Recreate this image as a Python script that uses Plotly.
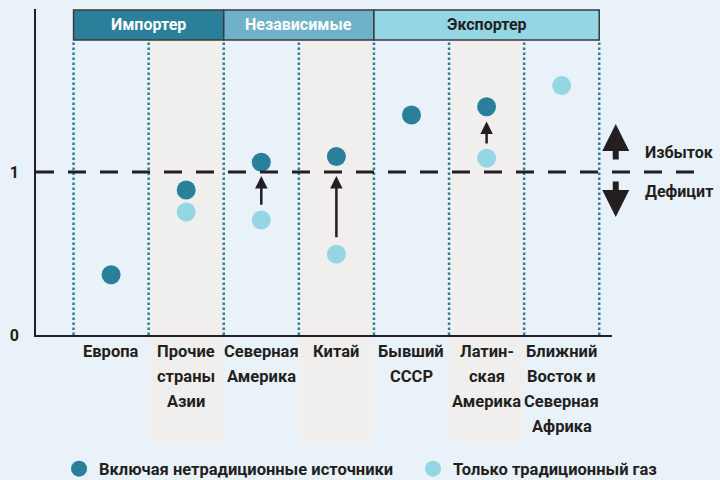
import plotly.graph_objects as go

# ---- data ----
cat_lines = [["Европа"], ["Прочие", "страны", "Азии"], ["Северная", "Америка"], ["Китай"],
             ["Бывший", "СССР"], ["Латин-", "ская", "Америка"], ["Ближний", "Восток и", "Северная", "Африка"]]
incl_values = [0.37, 0.89, 1.06, 1.095, 1.35, 1.40, None]
trad_values = [None, 0.755, 0.705, 0.495, None, 1.085, 1.53]
arrow_from = [None, None, 0.79, 0.59, None, 1.165, None]
arrow_to = [None, None, 0.975, 0.975, None, 1.31, None]
groups = [("Импортер", -0.5, 1.5), ("Независимые", 1.5, 3.5), ("Экспортер", 3.5, 6.5)]
y_ticks = [0, 1]
y_ticktext = ["0", "1"]
series_names = ["Включая нетрадиционные источники", "Только традиционный газ"]

DARK = "#2a7f9b"
LIGHT = "#94d6e4"
MID = "#6fb1c8"
BG = "#e9f1f9"
SHADE = "#f0efed"
INK = "#231f20"
FONT = "Roboto, sans-serif"
FS = 16.5

idx = list(range(len(cat_lines)))
fig = go.Figure()
fig.add_trace(go.Scatter(x=idx, y=incl_values, mode="markers", name=series_names[0],
                         marker=dict(size=19, color=DARK), legend="legend"))
fig.add_trace(go.Scatter(x=idx, y=trad_values, mode="markers", name=series_names[1],
                         marker=dict(size=19, color=LIGHT), legend="legend2"))

shapes = []
annotations = []
HDR_BOT, HDR_TOP = 0.905, 0.997
# shaded columns
for i in idx:
    if i % 2 == 1:
        shapes.append(dict(type="rect", xref="x", yref="paper", x0=i - 0.5, x1=i + 0.5,
                           y0=-0.331, y1=HDR_BOT, fillcolor=SHADE, line=dict(width=0), layer="below"))
# dotted separators
for k in range(len(cat_lines) + 1):
    shapes.append(dict(type="line", xref="x", yref="paper", x0=k - 0.5, x1=k - 0.5, y0=0, y1=HDR_BOT,
                       line=dict(color=DARK, width=2.5, dash="2.5px,2.5px"), layer="below"))
# dashed y=1 line
shapes.append(dict(type="line", xref="paper", yref="y", x0=0, x1=1.165, y0=1, y1=1,
                   line=dict(color=INK, width=3, dash="18px,14px")))
# header boxes
hdr_fill = [DARK, MID, LIGHT]
hdr_text = ["white", "white", INK]
for (name, a, b), fc, tc in zip(groups, hdr_fill, hdr_text):
    shapes.append(dict(type="rect", xref="x", yref="paper", x0=a, x1=b, y0=HDR_BOT, y1=HDR_TOP,
                       fillcolor=fc, line=dict(color="#3a3a3a", width=1.5)))
    annotations.append(dict(x=(a + b) / 2, y=(HDR_BOT + HDR_TOP) / 2, xref="x", yref="paper",
                            xanchor="center", yanchor="middle",
                            text=name, showarrow=False,
                            font=dict(family=FONT, size=16, color=tc, weight="bold")))
# category labels
for i, lines in enumerate(cat_lines):
    for k, line in enumerate(lines):
        annotations.append(dict(x=i, y=0, xref="x", yref="paper", yanchor="middle", xanchor="center",
                                yshift=-16 - 25 * k, text=line, showarrow=False,
                                font=dict(family=FONT, size=FS, color=INK, weight="bold")))
# change arrows
for i in idx:
    if arrow_from[i] is not None:
        annotations.append(dict(x=i, y=arrow_to[i], ax=i, ay=arrow_from[i], xref="x", yref="y",
                                axref="x", ayref="y", text="", showarrow=True, arrowhead=2,
                                arrowsize=1.0, arrowwidth=2.5, arrowcolor=INK))
# surplus / deficit
annotations.append(dict(x=1.0065, y=0.647, xref="paper", yref="paper", ax=0, ay=37, text="",
                        showarrow=True, arrowhead=2, arrowsize=0.9, arrowwidth=6, arrowcolor=INK))
annotations.append(dict(x=1.0065, y=0.362, xref="paper", yref="paper", ax=0, ay=-37, text="",
                        showarrow=True, arrowhead=2, arrowsize=0.9, arrowwidth=6, arrowcolor=INK))
annotations.append(dict(x=1.053, y=1.12, xref="paper", yref="y", xanchor="left", yanchor="middle",
                        text="Избыток", showarrow=False,
                        font=dict(family=FONT, size=16, color=INK, weight="bold")))
annotations.append(dict(x=1.053, y=0.88, xref="paper", yref="y", xanchor="left", yanchor="middle",
                        text="Дефицит", showarrow=False,
                        font=dict(family=FONT, size=16, color=INK, weight="bold")))

leg_common = dict(orientation="h", y=-0.411, xanchor="left", yanchor="middle",
                  font=dict(family=FONT, size=FS, color=INK, weight="bold"),
                  bgcolor="rgba(0,0,0,0)", itemsizing="trace")
fig.update_layout(
    width=720, height=480,
    margin=dict(l=36, r=108, t=9, b=145, autoexpand=False),
    paper_bgcolor=BG, plot_bgcolor="rgba(0,0,0,0)",
    shapes=shapes, annotations=annotations,
    showlegend=True,
    legend=dict(x=0.040, **leg_common),
    legend2=dict(x=0.6545, **leg_common),
    font=dict(family=FONT, color=INK),
)
fig.update_xaxes(range=[-1, 6.67], showgrid=False, zeroline=False, showticklabels=False,
                 showline=True, linecolor=INK, linewidth=1.5, ticks="", fixedrange=True)
fig.update_yaxes(range=[0, 2], showgrid=False, zeroline=False, tickvals=y_ticks, ticktext=y_ticktext,
                 showline=True, linecolor=INK, linewidth=1.5, ticks="", ticklabelstandoff=12,
                 fixedrange=True,
                 tickfont=dict(family=FONT, size=16, color=INK, weight="bold"))
fig.write_html("out.html", config={"displayModeBar": False},
               post_script="document.body.style.margin='0';document.body.style.padding='0';")
